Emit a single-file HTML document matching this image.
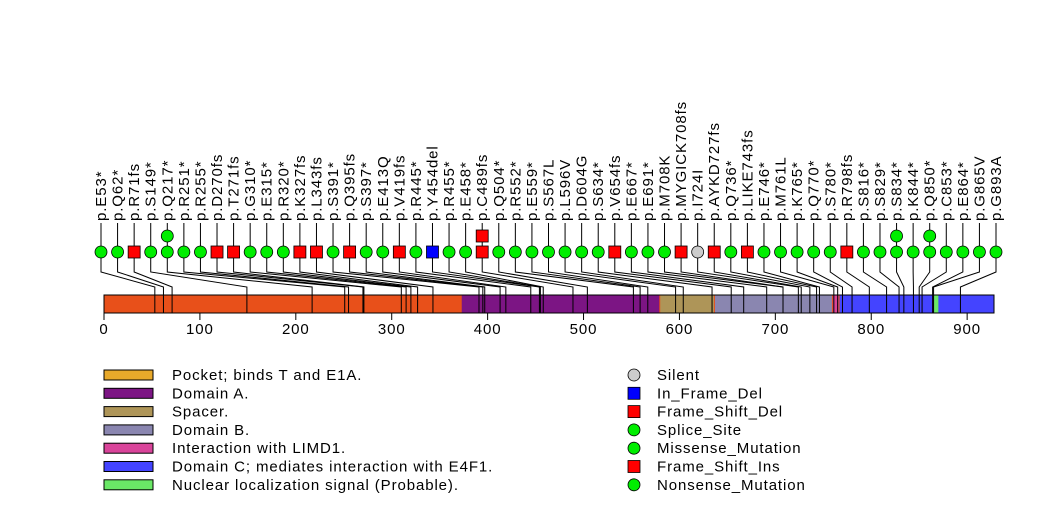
<!DOCTYPE html>
<html><head><meta charset="utf-8">
<style>
html,body{margin:0;padding:0;background:#fff;}
svg{display:block;font-family:"Liberation Sans",Arial,sans-serif;}
</style></head>
<body>
<svg id="chart" width="1047" height="524" viewBox="0 0 1047 524"></svg>
<script>
const labels=["p.E53*","p.Q62*","p.R71fs","p.S149*","p.Q217*","p.R251*","p.R255*","p.D270fs","p.T271fs","p.G310*","p.E315*","p.R320*","p.K327fs","p.L343fs","p.S391*","p.Q395fs","p.S397*","p.E413Q","p.V419fs","p.R445*","p.Y454del","p.R455*","p.E458*","p.C489fs","p.Q504*","p.R552*","p.E559*","p.S567L","p.L596V","p.D604G","p.S634*","p.V654fs","p.E667*","p.E691*","p.M708K","p.MYGICK708fs","p.I724I","p.AYKD727fs","p.Q736*","p.LIKE743fs","p.E746*","p.M761L","p.K765*","p.Q770*","p.S780*","p.R798fs","p.S816*","p.S829*","p.S834*","p.K844*","p.Q850*","p.C853*","p.E864*","p.G865V","p.G893A"];
const positions=[53,62,71,149,217,251,255,270,271,310,315,320,327,343,391,395,397,413,419,445,454,455,458,489,504,552,559,567,596,604,634,654,667,691,708,708,724,727,736,743,746,761,765,770,780,798,816,829,834,844,850,853,864,865,893];
const types=["n","n","f","n","n","n","n","f","f","n","n","n","f","f","n","f","n","m","f","n","d","n","n","f","n","n","n","m","m","m","n","f","n","n","m","f","s","f","n","f","n","m","n","n","n","f","n","n","n","n","n","n","n","m","m"];
const counts=[1,1,1,1,2,1,1,1,1,1,1,1,1,1,1,1,1,1,1,1,1,1,1,2,1,1,1,1,1,1,1,1,1,1,1,1,1,1,1,1,1,1,1,1,1,1,1,1,2,1,2,1,1,1,1];
const domainNames=["Pocket","Domain A","Spacer","Domain B","Interaction with LIMD1","Domain C","Nuclear localization signal"];
const domainStart=[373,373,580,637,760,767,865];
const domainEnd=[579,579,636,759,766,928,870];
const domainColors=["#E8A92A","#7C1584","#AE9558","#8A86B0","#D9449A","#4444FF","#6AE866"];
const legendText=["Pocket; binds T and E1A.","Domain A.","Spacer.","Domain B.","Interaction with LIMD1.","Domain C; mediates interaction with E4F1.","Nuclear localization signal (Probable)."];
const ticks=[0,100,200,300,400,500,600,700,800,900];
const proteinLen=928;

const svg=document.getElementById('chart');
const NS='http://www.w3.org/2000/svg';
function el(t,a,p){const e=document.createElementNS(NS,t);for(const k in a)e.setAttribute(k,a[k]);(p||svg).appendChild(e);return e;}
const X0=104,X1=994;
function xs(aa){return X0+(X1-X0)*aa/proteinLen;}
const barTop=295,barBot=313;
const FS=15, LS=0.9;

let b=el('rect',{x:X0,y:barTop,width:X1-X0,height:barBot-barTop,fill:'#E8501A',stroke:'none'});


for(let i=1;i<domainNames.length;i++){
  let r=el('rect',{x:xs(domainStart[i]),y:barTop,width:xs(domainEnd[i])-xs(domainStart[i]),height:barBot-barTop,fill:domainColors[i]});
  
  
}
el('rect',{x:X0,y:barTop,width:X1-X0,height:barBot-barTop,fill:'none',stroke:'#000','stroke-width':1});

let ax=el('line',{x1:X0,y1:barBot,x2:X1,y2:barBot,stroke:'#000'});


ticks.forEach(t=>{
  el('line',{x1:xs(t),y1:barBot,x2:xs(t),y2:barBot+7,stroke:'#000'});
  let tx=el('text',{x:xs(t),y:334,'font-size':FS,'letter-spacing':LS,'text-anchor':'middle',fill:'#000'});
  tx.textContent=t;
  
  
});

const n=labels.length, MX0=101, MX1=996;
const rowY=252, stackDy=16;
for(let i=0;i<n;i++){
  const mx=MX0+(MX1-MX0)*i/(n-1);
  const px=xs(positions[i]);
  el('polyline',{points:`${mx},223 ${mx},272 ${px},287 ${px},${barBot}`,fill:'none',stroke:'#000','stroke-width':1});
  for(let k=0;k<counts[i];k++){
    const cy=rowY-k*stackDy;
    let m;
    if(types[i]==='f'||types[i]==='d'){
      m=el('rect',{x:mx-6,y:cy-6,width:12,height:12,fill:types[i]==='d'?'#0000FF':'#FF0000',stroke:'#000','stroke-width':0.8});
    }else{
      m=el('ellipse',{cx:mx,cy:cy,rx:6,ry:6,fill:types[i]==='s'?'#CCCCCC':'#00EE00',stroke:'#000','stroke-width':0.8});
    }
    
    
  }
  let t=el('text',{x:0,y:0,'font-size':FS,'letter-spacing':LS,fill:'#000',transform:`translate(${mx+5},221) rotate(-90)`});
  t.textContent=labels[i];
  
  
}

for(let i=0;i<legendText.length;i++){
  const y=375+i*18.3;
  let r=el('rect',{x:104,y:y-5,width:49,height:10,fill:domainColors[i],stroke:'#000','stroke-width':1});
  
  
  let t=el('text',{x:172,y:y+5,'font-size':FS,'letter-spacing':LS,fill:'#000'});
  t.textContent=legendText[i];
  
  
}
const mutNames=["Silent","In_Frame_Del","Frame_Shift_Del","Splice_Site","Missense_Mutation","Frame_Shift_Ins","Nonsense_Mutation"];
const mutShapes=["c","s","s","c","c","s","c"];
const mutColors=["#CCCCCC","#0000FF","#FF0000","#00EE00","#00EE00","#FF0000","#00EE00"];
for(let i=0;i<mutNames.length;i++){
  const y=375+i*18.3;
  let m;
  if(mutShapes[i]==='s') m=el('rect',{x:628,y:y-6,width:12,height:12,fill:mutColors[i],stroke:'#000','stroke-width':0.8});
  else m=el('ellipse',{cx:634,cy:y,rx:6,ry:6,fill:mutColors[i],stroke:'#000','stroke-width':0.8});
  
  
  let t=el('text',{x:657,y:y+5,'font-size':FS,'letter-spacing':LS,fill:'#000'});
  t.textContent=mutNames[i];
  
  
}
</script>
</body></html>
